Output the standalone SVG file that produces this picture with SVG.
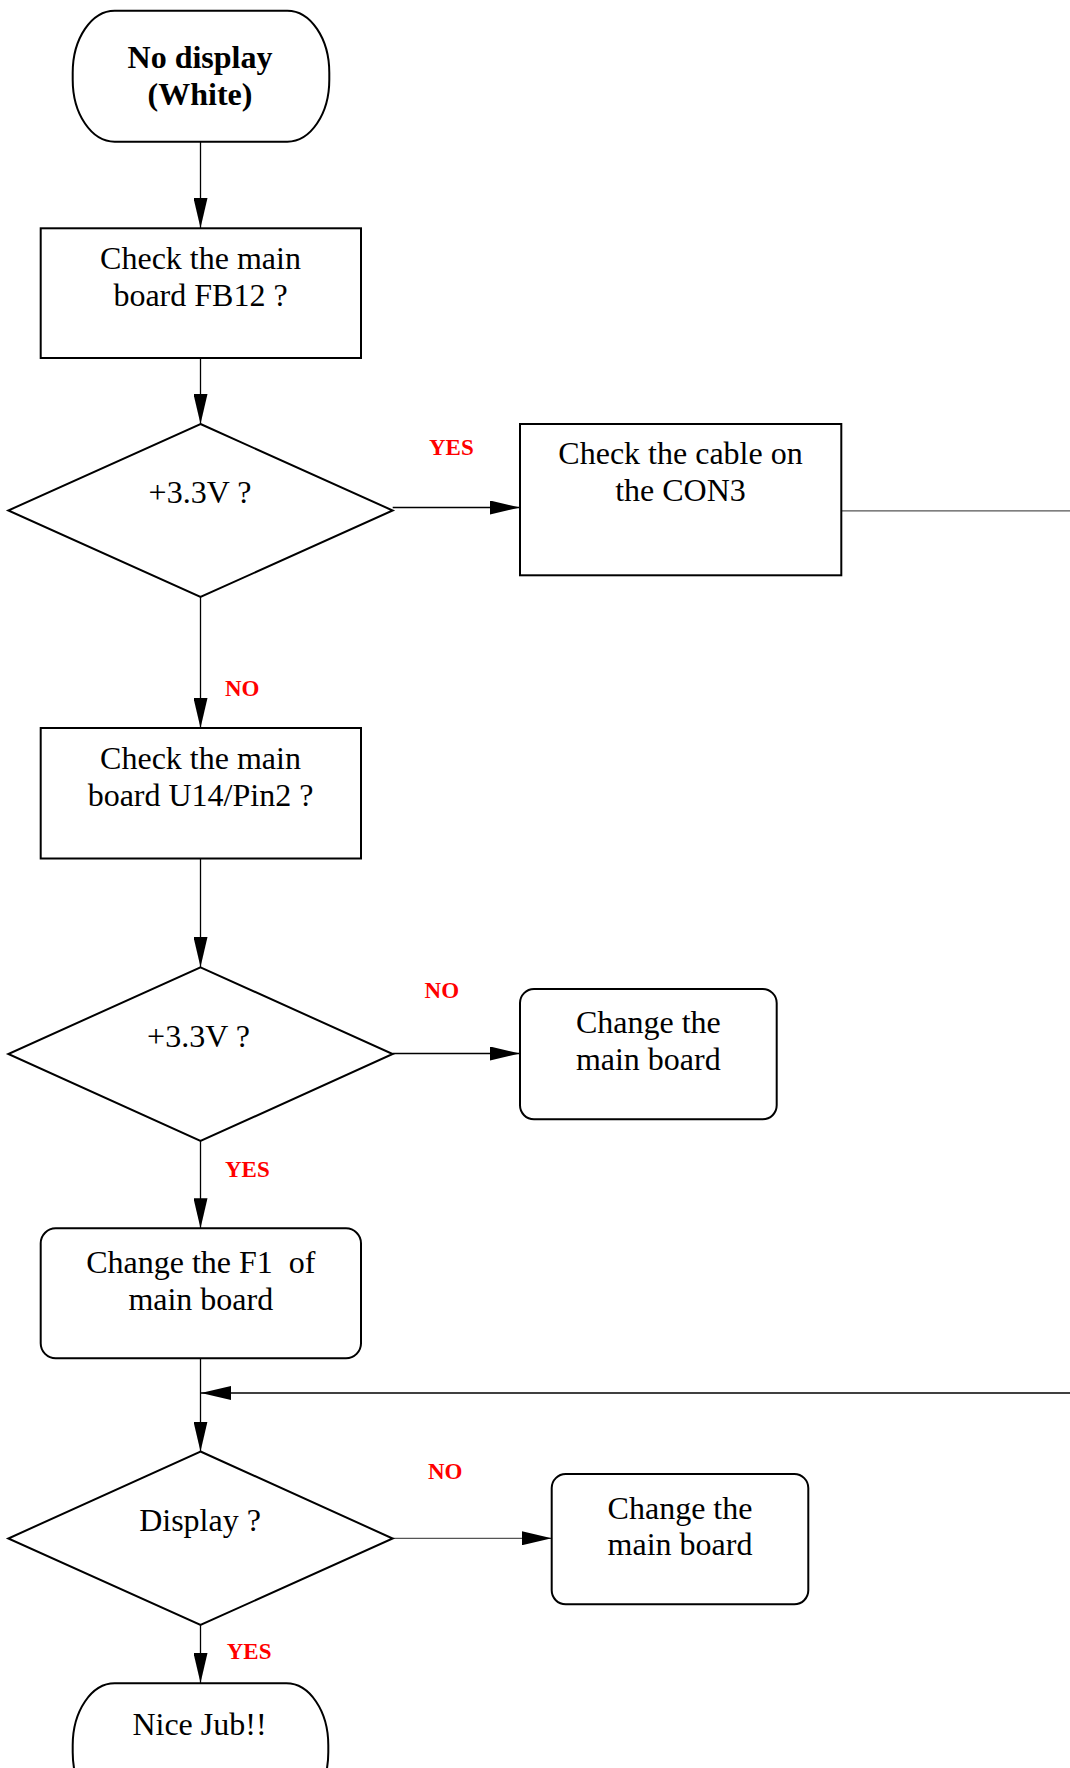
<svg xmlns="http://www.w3.org/2000/svg" width="1070" height="1768" viewBox="0 0 1070 1768">
<style>
.shape{fill:#fff;stroke:#000;stroke-width:2}
.t{font-family:"Liberation Serif","Times New Roman",serif;font-size:32px;fill:#000;text-anchor:middle}
.b{font-weight:bold}
.lbl{font-family:"Liberation Serif","Times New Roman",serif;font-size:23px;font-weight:bold;fill:#ff0000}
.c{fill:none;stroke:#000;stroke-width:1.3}
.g{fill:none;stroke:#555;stroke-width:1.3}
</style>
<defs>
<marker id="ah" viewBox="0 0 30 14" refX="30" refY="7" markerWidth="30" markerHeight="14" markerUnits="userSpaceOnUse" orient="auto">
<path d="M0,0 L30,7 L0,14 Z" fill="#000"/>
</marker>
</defs>
<rect width="1070" height="1768" fill="#fff"/>
<g id="connectors">
<line class="c" x1="200.5" y1="142" x2="200.5" y2="228" marker-end="url(#ah)"/>
<line class="c" x1="200.5" y1="358" x2="200.5" y2="424" marker-end="url(#ah)"/>
<line class="c" x1="392.7" y1="507.5" x2="520" y2="507.5" marker-end="url(#ah)"/>
<line class="g" x1="841" y1="510.8" x2="1070" y2="510.8"/>
<line class="c" x1="200.5" y1="597" x2="200.5" y2="728" marker-end="url(#ah)"/>
<line class="c" x1="200.5" y1="858.5" x2="200.5" y2="967" marker-end="url(#ah)"/>
<line class="c" x1="392.7" y1="1053.5" x2="520" y2="1053.5" marker-end="url(#ah)"/>
<line class="c" x1="200.5" y1="1141" x2="200.5" y2="1228.3" marker-end="url(#ah)"/>
<line class="c" x1="200.5" y1="1358" x2="200.5" y2="1451.5" marker-end="url(#ah)"/>
<line class="c" x1="1070" y1="1393" x2="201" y2="1393" marker-end="url(#ah)"/>
<line class="g" x1="392.7" y1="1538.3" x2="551.7" y2="1538.3" marker-end="url(#ah)"/>
<line class="c" x1="200.5" y1="1625" x2="200.5" y2="1683" marker-end="url(#ah)"/>
<text class="lbl" x="429" y="455.3">YES</text>
<text class="lbl" x="225" y="696">NO</text>
<text class="lbl" x="424.6" y="998">NO</text>
<text class="lbl" x="225" y="1177">YES</text>
<text class="lbl" x="428" y="1479">NO</text>
<text class="lbl" x="226.7" y="1659">YES</text>
</g>
<g id="start">
<rect class="shape" x="72.7" y="10.7" width="256.6" height="131" rx="42" ry="62"/>
<text class="t b" x="200" y="68">No display</text>
<text class="t b" x="200" y="105">(White)</text>
</g>
<g id="check_fb12">
<rect class="shape" x="40.7" y="228.3" width="320.3" height="129.7"/>
<text class="t" x="200.5" y="269.3">Check the main</text>
<text class="t" x="200.5" y="306">board FB12 ?</text>
</g>
<g id="dec1">
<polygon class="shape" points="200.5,424 392.7,510.5 200.5,597 8.3,510.5"/>
<text class="t" x="200" y="503">+3.3V ?</text>
</g>
<g id="check_cable">
<rect class="shape" x="520" y="424" width="321.3" height="151.3"/>
<text class="t" x="680.5" y="464.3">Check the cable on</text>
<text class="t" x="680.5" y="501.3">the CON3</text>
</g>
<g id="check_u14">
<rect class="shape" x="40.7" y="728" width="320.3" height="130.5"/>
<text class="t" x="200.5" y="769">Check the main</text>
<text class="t" x="200.5" y="806">board U14/Pin2 ?</text>
</g>
<g id="dec2">
<polygon class="shape" points="200.5,967.3 392.7,1054 200.5,1141 8.3,1054"/>
<text class="t" x="198.5" y="1046.7">+3.3V ?</text>
</g>
<g id="change1">
<rect class="shape" x="520" y="989" width="256.7" height="130.3" rx="14" ry="14"/>
<text class="t" x="648.3" y="1033.3">Change the</text>
<text class="t" x="648.3" y="1070">main board</text>
</g>
<g id="change_f1">
<rect class="shape" x="40.7" y="1228.3" width="320.3" height="130" rx="15" ry="15"/>
<text class="t" x="200.8" y="1272.7" xml:space="preserve">Change the F1  of</text>
<text class="t" x="200.8" y="1310">main board</text>
</g>
<g id="dec3">
<polygon class="shape" points="200.5,1451.5 392.7,1538.5 200.5,1625 8.3,1538.5"/>
<text class="t" x="200" y="1531">Display ?</text>
</g>
<g id="change2">
<rect class="shape" x="551.7" y="1474" width="256.6" height="130.3" rx="14" ry="14"/>
<text class="t" x="680" y="1519">Change the</text>
<text class="t" x="680" y="1555">main board</text>
</g>
<g id="end">
<rect class="shape" x="72.7" y="1683.3" width="255.6" height="131" rx="42" ry="62"/>
<text class="t" x="199.5" y="1735">Nice Jub!!</text>
</g>
</svg>
